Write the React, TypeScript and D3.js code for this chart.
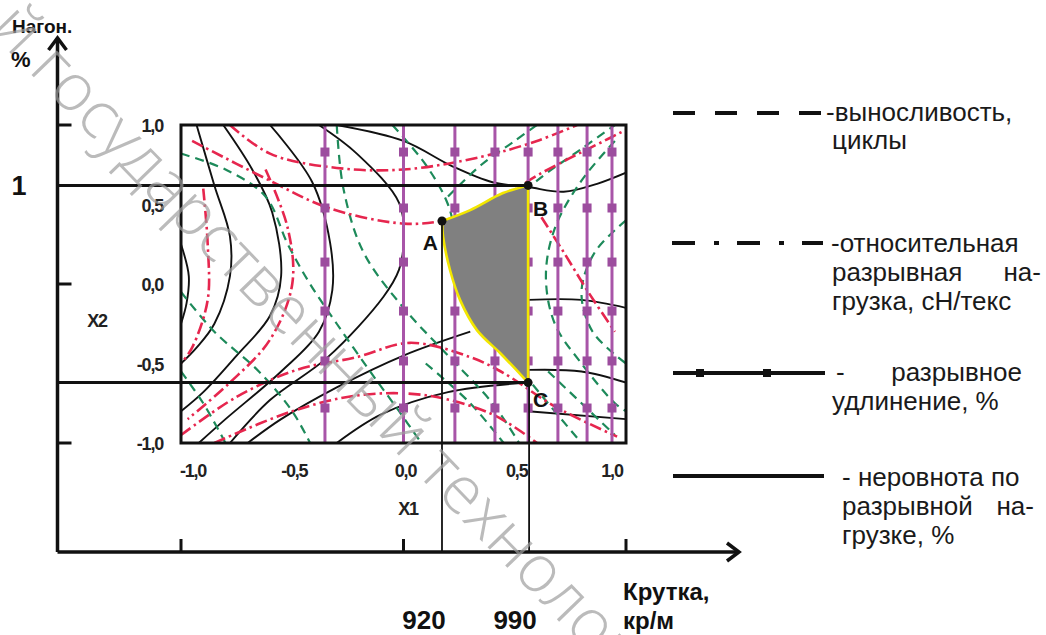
import React from "react";
import * as d3 from "d3";

type Pt = [number, number];

// ---------- data (coded factors X1 = twist, X2 = draft) ----------
const X1_TICKS = [-1, -0.5, 0, 0.5, 1];
const X1_TICK_LABELS = ["-1,0", "-0,5", "0,0", "0,5", "1,0"];
const X2_TICKS = [1, 0.5, 0, -0.5, -1];
const X2_TICK_LABELS = ["1,0", "0,5", "0,0", "-0,5", "-1,0"];
const OUTER_X_TICKS = [-1, 0, 1];
const OUTER_Y_TICKS = [1, 0, -1];

// неровнота по разрывной нагрузке (black solid)
const NONUNIFORMITY: Pt[][] = [
  [[-1, 0.25], [-0.965, 0.05], [-0.975, -0.12], [-1, -0.25]],
  [[-0.93, 1], [-0.85, 0.62], [-0.78, 0.3], [-0.78, 0.05], [-0.85, -0.25], [-0.93, -0.4], [-1, -0.5]],
  [[-0.81, 1], [-0.68, 0.72], [-0.59, 0.45], [-0.55, 0.05], [-0.6, -0.2], [-0.75, -0.45], [-0.9, -0.68], [-1, -0.8]],
  [[-0.6, 1], [-0.41, 0.64], [-0.33, 0.26], [-0.32, -0.04], [-0.38, -0.3], [-0.55, -0.55], [-0.8, -0.85], [-0.92, -1]],
  [[-0.38, 1], [-0.21, 0.82], [-0.02, 0.51], [0.0, 0.26], [-0.02, 0.09], [-0.09, -0.08], [-0.34, -0.46], [-0.6, -0.73], [-0.78, -1]],
  [[0.3, -0.3], [0.0, -0.45], [-0.3, -0.65], [-0.55, -0.85], [-0.7, -1]],
  [[0.56, -0.62], [0.2, -0.68], [-0.1, -0.82], [-0.3, -1]],
  [[-0.3, 1], [0, 0.9], [0.22, 0.74], [0.4, 0.64], [0.56, 0.61], [0.72, 0.58], [0.87, 0.63], [1, 0.7]],
  [[0.56, -0.1], [0.8, -0.1], [1, -0.15]],
  [[0.56, -0.54], [0.8, -0.55], [1, -0.62]],
  [[0.56, -0.8], [1, -0.85]],
];

// выносливость (dashed, green)
const ENDURANCE: Pt[][] = [
  [[-1, 0.82], [-0.8, 0.72], [-0.62, 0.55], [-0.52, 0.25], [-0.42, 0.0], [-0.3, -0.25], [-0.15, -0.55], [-0.02, -0.8], [0.08, -1]],
  [[-0.3, 1], [-0.27, 0.6], [-0.18, 0.2], [0.0, -0.15], [0.2, -0.45], [0.4, -0.75], [0.52, -1]],
  [[-0.05, 1], [0.1, 0.75], [0.2, 0.5], [0.25, 0.2], [0.32, -0.1], [0.45, -0.4], [0.62, -0.7], [0.8, -1]],
  [[0.2, 0.55], [0.35, 0.75], [0.5, 0.9], [0.6, 1]],
  [[0.45, 0.45], [0.6, 0.65], [0.8, 0.85], [0.95, 1]],
  [[0.95, 0.9], [0.8, 0.65], [0.68, 0.35], [0.64, 0.05], [0.68, -0.25], [0.8, -0.5], [0.95, -0.75], [1, -0.8]],
  [[1, 0.4], [0.86, 0.2], [0.8, -0.05], [0.85, -0.3], [1, -0.5]],
  [[-1, -0.05], [-0.85, -0.3], [-0.65, -0.55], [-0.5, -0.8], [-0.42, -1]],
  [[-1, -0.55], [-0.9, -0.75], [-0.8, -1]],
  [[0.65, -0.55], [0.8, -0.75], [0.95, -0.95]],
  [[0.1, -0.5], [0.3, -0.75], [0.45, -1]],
];

// относительная разрывная нагрузка (dash-dot, red)
const STRENGTH: Pt[][] = [
  [[-0.95, 0.9], [-0.6, 0.65], [-0.34, 0.48], [0, 0.38], [0.18, 0.4], [0.39, 0.5], [0.61, 0.69], [0.93, 0.92], [1, 0.97]],
  [[-0.78, 1], [-0.6, 0.82], [-0.3, 0.73], [0, 0.72], [0.35, 0.8], [0.6, 0.9], [0.78, 1]],
  [[-1, -0.95], [-0.75, -0.71], [-0.48, -0.54], [-0.21, -0.46], [0.03, -0.37], [0.3, -0.46], [0.45, -0.56], [0.68, -0.77], [0.96, -0.96]],
  [[-0.85, -1], [-0.5, -0.8], [-0.2, -0.7], [0.1, -0.7], [0.4, -0.82], [0.6, -1]],
  [[-0.9, 0.6], [-0.88, 0.25], [-0.88, -0.1], [-0.95, -0.4], [-1, -0.5]],
  [[-0.62, 0.72], [-0.52, 0.35], [-0.5, 0.0], [-0.6, -0.35], [-0.78, -0.62], [-0.97, -0.85]],
  [[0.62, 0.42], [0.72, 0.2], [0.83, -0.05], [0.95, -0.3]],
];

// разрывное удлинение (vertical lines with squares, purple)
const ELONGATION_X1 = [-0.353, 0.0, 0.231, 0.411, 0.56, 0.694, 0.825, 0.937];
const ELONGATION_MARK_X2 = [0.83, 0.478, 0.138, -0.17, -0.484, -0.78];

// optimum region
const POINT_A: Pt = [0.173, 0.396];
const POINT_B: Pt = [0.56, 0.62];
const POINT_C: Pt = [0.56, -0.62];
const EDGE_AB: Pt[] = [[0.173, 0.396], [0.3, 0.465], [0.447, 0.572], [0.56, 0.62]];
const EDGE_CA: Pt[] = [[0.56, -0.62], [0.537, -0.585], [0.434, -0.434], [0.33, -0.29], [0.254, -0.1], [0.209, 0.088], [0.178, 0.296], [0.173, 0.396]];
const POINT_NAMES = ["A", "B", "C"];
const TWIST_LABELS = ["920", "990"];
const DRAFT_LABEL = "1";

const LEGEND_TEXTS = [
  ["-выносливость,", "циклы"],
  ["-относительная", "разрывная", "на-", "грузка, сН/текс"],
  ["-", "разрывное", "удлинение, %"],
  ["- неровнота по", "разрывной", "на-", "грузке, %"],
];

const W = 1046;
const H = 635;
const FONT = "'Liberation Sans', Arial, Helvetica, sans-serif";

export default function App() {
  const x = d3.scaleLinear().domain([-1, 1]).range([181, 626]);
  const y = d3.scaleLinear().domain([-1, 1]).range([443, 125]);
  const curve = d3
    .line<Pt>()
    .x((d) => x(d[0]))
    .y((d) => y(d[1]))
    .curve(d3.curveCatmullRom.alpha(0.5));

  const axX = 57.5;
  const axY = 552;
  const regionPath =
    (curve(EDGE_AB) as string) + "L" + (curve(EDGE_CA) as string).slice(1) + "Z";

  const red = "#e6264e";
  const green = "#1d8a5a";
  const purple = "#a855a8";
  const ink = "#111";
  const tickStyle = { fontSize: 18, fontWeight: "bold" as const, letterSpacing: -1.2, fill: "#222" };

  return (
    <svg
      width={W}
      height={H}
      style={{ position: "absolute", left: 0, top: 0, display: "block", background: "#fff" }}
      fontFamily={FONT}
    >
      <defs>
        <clipPath id="plotClip">
          <rect x={x(-1)} y={y(1)} width={x(1) - x(-1)} height={y(-1) - y(1)} />
        </clipPath>
      </defs>
      <rect width={W} height={H} fill="#fff" />

      {/* contour families */}
      <g clipPath="url(#plotClip)" fill="none">
        {NONUNIFORMITY.map((c, i) => (
          <path key={"b" + i} d={curve(c) as string} stroke={ink} strokeWidth={1.9} />
        ))}
        {ENDURANCE.map((c, i) => (
          <path key={"g" + i} d={curve(c) as string} stroke={green} strokeWidth={2.2} strokeDasharray="9 6" />
        ))}
        {STRENGTH.map((c, i) => (
          <path key={"r" + i} d={curve(c) as string} stroke={red} strokeWidth={2.6} strokeDasharray="12 4 2.5 4" />
        ))}
        {ELONGATION_X1.map((v, i) => (
          <g key={"p" + i}>
            <line x1={x(v)} x2={x(v)} y1={y(1)} y2={y(-1)} stroke={purple} strokeWidth={3} />
            {ELONGATION_MARK_X2.map((m, j) => (
              <rect key={j} x={x(v) - 4.5} y={y(m) - 4.5} width={9} height={9} fill="#9c4d9e" />
            ))}
          </g>
        ))}
      </g>

      {/* plot frame */}
      <rect
        x={x(-1)}
        y={y(1)}
        width={x(1) - x(-1)}
        height={y(-1) - y(1)}
        fill="none"
        stroke={ink}
        strokeWidth={3}
      />

      {/* optimum region */}
      <path d={regionPath} fill="#808080" stroke="#f2e600" strokeWidth={2.6} strokeLinejoin="round" />

      {/* guide lines */}
      <line x1={axX} x2={x(POINT_B[0])} y1={y(POINT_B[1])} y2={y(POINT_B[1])} stroke={ink} strokeWidth={3} />
      <line x1={axX} x2={x(POINT_C[0])} y1={y(POINT_C[1])} y2={y(POINT_C[1])} stroke={ink} strokeWidth={3} />
      <line x1={x(POINT_A[0])} x2={x(POINT_A[0])} y1={y(POINT_A[1])} y2={axY} stroke={ink} strokeWidth={1.8} />
      <line x1={x(POINT_C[0]) + 1} x2={x(POINT_C[0]) + 1} y1={y(POINT_C[1])} y2={axY} stroke={ink} strokeWidth={1.8} />

      {[POINT_A, POINT_B, POINT_C].map((p, i) => (
        <circle key={i} cx={x(p[0])} cy={y(p[1])} r={4.5} fill={ink} />
      ))}
      <text x={x(POINT_A[0]) - 4} y={y(POINT_A[1]) + 29} textAnchor="end" fontSize={21} fontWeight="bold" fill={ink}>
        {POINT_NAMES[0]}
      </text>
      <text x={x(POINT_B[0]) + 5} y={y(POINT_B[1]) + 31} fontSize={21} fontWeight="bold" fill={ink}>
        {POINT_NAMES[1]}
      </text>
      <text x={x(POINT_C[0]) + 5} y={y(POINT_C[1]) + 24} fontSize={21} fontWeight="bold" fill={ink}>
        {POINT_NAMES[2]}
      </text>

      {/* inner tick labels */}
      {X2_TICKS.map((v, i) => (
        <text key={"yl" + i} x={163} y={y(v) + 7} textAnchor="end" {...tickStyle}>
          {X2_TICK_LABELS[i]}
        </text>
      ))}
      {X1_TICKS.map((v, i) => (
        <text key={"xl" + i} x={x(v) + (v === -1 ? 12 : v === 1 ? -14 : 2)} y={477} textAnchor="middle" {...tickStyle}>
          {X1_TICK_LABELS[i]}
        </text>
      ))}
      <text x={97} y={327} textAnchor="middle" {...tickStyle}>X2</text>
      <text x={408} y={515} textAnchor="middle" {...tickStyle}>X1</text>

      {/* outer axes */}
      <line x1={axX} x2={axX} y1={axY} y2={38} stroke={ink} strokeWidth={3.5} />
      <polyline points={`${axX - 9},${50} ${axX},${38} ${axX + 9},${50}`} fill="none" stroke={ink} strokeWidth={3.5} />
      <line x1={axX} x2={738} y1={axY} y2={axY} stroke={ink} strokeWidth={3.5} />
      <polyline points={`${727},${axY - 9} ${739},${axY} ${727},${axY + 9}`} fill="none" stroke={ink} strokeWidth={3.5} />
      {OUTER_Y_TICKS.map((v, i) => (
        <line key={"oy" + i} x1={axX} x2={axX + 14} y1={y(v)} y2={y(v)} stroke={ink} strokeWidth={3} />
      ))}
      {OUTER_X_TICKS.map((v, i) => (
        <line key={"ox" + i} x1={x(v)} x2={x(v)} y1={axY} y2={axY - 13} stroke={ink} strokeWidth={3} />
      ))}

      {/* outer axis titles */}
      <text x={12} y={33} fontSize={19} fontWeight="bold" fill={ink}>Нагон.</text>
      <text x={11} y={67} fontSize={22} fontWeight="bold" fill={ink}>%</text>
      <text x={19} y={y(POINT_B[1]) + 10} textAnchor="middle" fontSize={27} fontWeight="bold" fill={ink}>{DRAFT_LABEL}</text>
      <text x={x(POINT_A[0]) - 18} y={629} textAnchor="middle" fontSize={26} fontWeight="bold" fill={ink}>{TWIST_LABELS[0]}</text>
      <text x={x(POINT_B[0]) - 13} y={629} textAnchor="middle" fontSize={26} fontWeight="bold" fill={ink}>{TWIST_LABELS[1]}</text>
      <text x={623} y={600} fontSize={24} fontWeight="bold" fill={ink}>Крутка,</text>
      <text x={623} y={629} fontSize={24} fontWeight="bold" fill={ink}>кр/м</text>

      {/* legend */}
      <g stroke={ink} strokeWidth={4} fill="none">
        <line x1={673} x2={821} y1={113} y2={113} strokeDasharray="22 20" />
        <line x1={672} x2={823} y1={243} y2={243} strokeDasharray="23 19 5 18" />
        <line x1={673} x2={825} y1={373} y2={373} />
        <line x1={673} x2={824} y1={476} y2={476} />
      </g>
      <rect x={696} y={369} width={8} height={8} fill={ink} />
      <rect x={763} y={369} width={8} height={8} fill={ink} />
      <g fontSize={26} fill="#1a1a1a">
        <text x={826} y={121}>{LEGEND_TEXTS[0][0]}</text>
        <text x={832} y={149}>{LEGEND_TEXTS[0][1]}</text>
        <text x={831} y={252}>{LEGEND_TEXTS[1][0]}</text>
        <text x={832} y={281}>{LEGEND_TEXTS[1][1]}</text>
        <text x={1041} y={281} textAnchor="end">{LEGEND_TEXTS[1][2]}</text>
        <text x={832} y={310}>{LEGEND_TEXTS[1][3]}</text>
        <text x={836} y={381}>{LEGEND_TEXTS[2][0]}</text>
        <text x={1022} y={381} textAnchor="end">{LEGEND_TEXTS[2][1]}</text>
        <text x={832} y={410}>{LEGEND_TEXTS[2][2]}</text>
        <text x={842} y={486}>{LEGEND_TEXTS[3][0]}</text>
        <text x={842} y={515}>{LEGEND_TEXTS[3][1]}</text>
        <text x={1034} y={515} textAnchor="end">{LEGEND_TEXTS[3][2]}</text>
        <text x={842} y={544}>{LEGEND_TEXTS[3][3]}</text>
      </g>

      {/* watermark */}
      <text
        transform="translate(-12,30) rotate(46)"
        fontFamily="'Open Sans', 'DejaVu Sans', sans-serif"
        fontWeight={300}
        fontSize={66}
        fill="#9e9e9e"
        fillOpacity={0.7}
      >
        й государственный технологический
      </text>
    </svg>
  );
}
